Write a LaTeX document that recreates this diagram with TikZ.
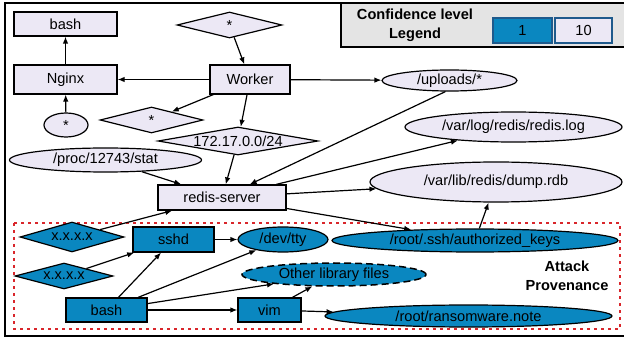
\documentclass[tikz,border=0pt]{standalone}
\usepackage{fontspec}
\setmainfont{Liberation Sans}
\usetikzlibrary{shapes.geometric,arrows.meta,positioning}
\definecolor{lav}{HTML}{ECE8F5}
\definecolor{hot}{HTML}{0A87C0}
\definecolor{hotline}{HTML}{1E5A8C}
\definecolor{legbg}{HTML}{E4E4E4}
\definecolor{provred}{HTML}{D9262B}
\begin{document}
\begin{tikzpicture}[x=1pt, y=-1pt, font=\fontsize{14.6}{19}\selectfont,
    box/.style={draw, line width=1.2pt, inner sep=0pt},
    proc/.style={box, rectangle},
    file/.style={box, ellipse},
    sock/.style={box, diamond, aspect=5.7},
    low/.style={fill=lav},
    high/.style={fill=hot},
    edge/.style={-{Latex[length=7pt,width=5.5pt]}, line width=1.2pt}]
    \useasboundingbox (0,0) rectangle (624,339);
    \draw[line width=1.6pt] (5,3) rectangle (634,336);
    % legend
    \draw[line width=1.6pt, fill=legbg] (341,3) rectangle (634,47);
    \node[font=\fontsize{14.6}{19}\selectfont\bfseries, align=center] (leglabel) at (415,25) {Confidence level\\Legend};
    \node[proc, high, draw=hotline, minimum width=59, minimum height=25] (legone) at (522.5,30.5) {1};
    \node[proc, low, draw=hotline, minimum width=57, minimum height=25] (legten) at (583.5,30.5) {10};
    % attack provenance region
    \draw[provred, line width=2pt, dash pattern=on 3pt off 4pt] (14,223) rectangle (620,329);
    \node[font=\fontsize{14.6}{19}\selectfont\bfseries, align=center] (provlabel) at (567,276) {Attack\\Provenance};
    % benign part
    \node[proc, low, minimum width=103, minimum height=24] (bashtop) at (65.5,24) {bash};
    \node[proc, low, minimum width=103, minimum height=29] (nginx) at (65.5,79.5) {Nginx};
    \node[file, low, minimum width=44, minimum height=24] (anyfile) at (66,125) {*};
    \node[sock, low, minimum width=105, minimum height=26] (anyhostA) at (229.5,25) {*};
    \node[proc, low, minimum width=80, minimum height=29] (worker) at (250,79.5) {Worker};
    \node[sock, low, minimum width=103, minimum height=26] (anyhostB) at (151.5,120) {*};
    \node[sock, low, minimum width=160, minimum height=28] (subnet) at (238,141) {172.17.0.0/24};
    \node[file, low, minimum width=192, minimum height=24] (procstat) at (105.5,160) {/proc/12743/stat};
    \node[file, low, minimum width=135, minimum height=21] (uploads) at (449.5,80.5) {/uploads/*};
    \node[file, low, minimum width=217, minimum height=30] (redislog) at (513.5,127) {/var/log/redis/redis.log};
    \node[file, low, minimum width=252, minimum height=40] (dump) at (496,182) {/var/lib/redis/dump.rdb};
    \node[proc, low, minimum width=128, minimum height=25] (redis) at (222,197.5) {redis-server};
    % attack part
    \node[sock, high, minimum width=104, minimum height=30] (xA) at (72,237) {x.x.x.x};
    \node[sock, high, minimum width=98, minimum height=26] (xB) at (64,276) {x.x.x.x};
    \node[proc, high, minimum width=81, minimum height=25] (sshd) at (173.5,239.5) {sshd};
    \node[file, high, minimum width=90, minimum height=25] (devtty) at (283,239.5) {/dev/tty};
    \node[file, high, minimum width=286, minimum height=23] (authkeys) at (475,240.5) {/root/.ssh/authorized\_keys};
    \node[file, high, line width=1.5pt, dash pattern=on 7pt off 4pt, minimum width=184, minimum height=23] (otherlib) at (334,274.5) {Other library files};
    \node[proc, high, minimum width=81, minimum height=24] (bashlow) at (106.5,310) {bash};
    \node[proc, high, minimum width=63, minimum height=24] (vim) at (269.5,310) {vim};
    \node[file, high, minimum width=287, minimum height=22] (ransom) at (468.5,316) {/root/ransomware.note};
    % edges
    \draw[edge] (nginx) -- (bashtop);
    \draw[edge] (anyfile) -- (nginx);
    \draw[edge] (worker) -- (nginx);
    \draw[edge] (anyhostA) -- (worker);
    \draw[edge] (worker) -- (anyhostB);
    \draw[edge] (worker) -- (subnet);
    \draw[edge] (worker) -- (uploads);
    \draw[edge] (subnet) -- (redis);
    \draw[edge] (procstat) -- (redis);
    \draw[edge] (uploads.250) -- (redis);
    \draw[edge] (redis) -- (redislog);
    \draw[edge] (redis) -- (dump);
    \draw[edge] (redis) -- (authkeys);
    \draw[edge] (authkeys) -- (dump);
    \draw[edge] (xA) -- (redis);
    \draw[edge] (xB) -- (sshd);
    \draw[edge] (sshd) -- (devtty);
    \draw[edge] (bashlow) -- (sshd);
    \draw[edge] (bashlow) -- (devtty);
    \draw[edge] (bashlow) -- (otherlib);
    \draw[edge] (bashlow) -- (vim);
    \draw[edge] (vim) -- (otherlib);
    \draw[edge] (vim) -- (ransom);
\end{tikzpicture}
\end{document}
